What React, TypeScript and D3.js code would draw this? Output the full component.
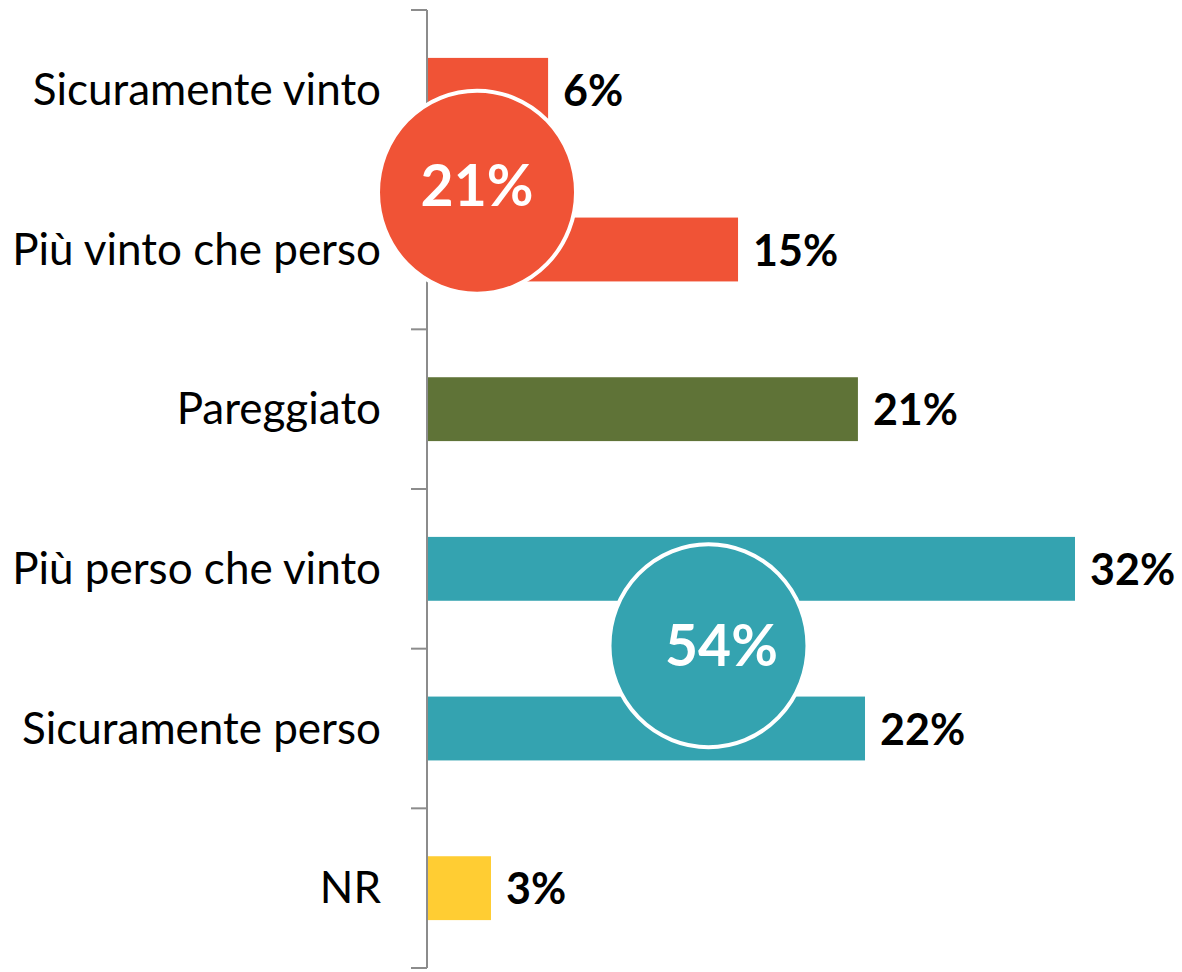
import React from "react";
import * as d3 from "d3";

const categories = [
  "Sicuramente vinto",
  "Più vinto che perso",
  "Pareggiato",
  "Più perso che vinto",
  "Sicuramente perso",
  "NR",
];
const values = [5.98, 15.36, 21.28, 32.0, 21.63, 3.16];
const valueLabels = ["6%", "15%", "21%", "32%", "22%", "3%"];
const colors = ["#F05336", "#F05336", "#5F7337", "#34A3B0", "#34A3B0", "#FFCD33"];
const groupLabels = ["21%", "54%"];
const groupColors = ["#F05336", "#34A3B0"];

const W = 1182;
const H = 972;
const FONT = "Lato, 'Open Sans', sans-serif";

export default function App() {
  const axisX = 427;
  const top = 10;
  const bottom = 968;
  const y = d3.scaleBand<string>().domain(categories).range([top, bottom]).paddingInner(0.6).paddingOuter(0.3);
  const band = d3.scaleBand<string>().domain(categories).range([top, bottom]);
  const x = d3.scaleLinear().domain([0, 32]).range([axisX, axisX + 648]);
  const ticks = d3.range(categories.length + 1).map((i) => top + i * band.step());

  const circles = [
    { cx: x(2.47), cy: ticks[1] + 22.5, rx: 99, ry: 101.5, tdx: 0, tdy: -6 },
    { cx: x(13.9), cy: ticks[4] - 3, rx: 99, ry: 101.5, tdx: 13, tdy: 0 },
  ];

  return (
    <svg width={W} height={H} style={{ position: "absolute", left: 0, top: 0 }}>
      <rect width={W} height={H} fill="#fff" />
      {categories.map((c, i) => (
        <rect key={c} x={axisX} y={y(c)} width={x(values[i]) - axisX} height={y.bandwidth()} fill={colors[i]} />
      ))}
      <line x1={axisX} x2={axisX} y1={top} y2={bottom} stroke="#8c8c8c" strokeWidth={2} />
      {ticks.map((t, i) => (
        <line key={i} x1={axisX - 16} x2={axisX} y1={t} y2={t} stroke="#8c8c8c" strokeWidth={2} />
      ))}
      {categories.map((c, i) => (
        <text
          key={c}
          x={381}
          y={(band(c) as number) + band.bandwidth() / 2 + 15}
          textAnchor="end"
          fontFamily={FONT}
          fontSize={44}
          fill="#000"
        >
          {c}
        </text>
      ))}
      {categories.map((c, i) => (
        <text
          key={c}
          x={x(values[i]) + 15}
          y={(y(c) as number) + y.bandwidth() / 2 + 16}
          fontFamily={FONT}
          fontWeight="bold"
          fontSize={43}
          fill="#000"
        >
          {valueLabels[i]}
        </text>
      ))}
      {circles.map((ci, i) => (
        <g key={i}>
          <ellipse cx={ci.cx} cy={ci.cy} rx={ci.rx} ry={ci.ry} fill={groupColors[i]} stroke="#fff" strokeWidth={4} />
          <text
            x={ci.cx + ci.tdx}
            y={ci.cy + ci.tdy + 20}
            textAnchor="middle"
            fontFamily={FONT}
            fontWeight="bold"
            fontSize={57}
            fill="#fff"
          >
            {groupLabels[i]}
          </text>
        </g>
      ))}
    </svg>
  );
}
